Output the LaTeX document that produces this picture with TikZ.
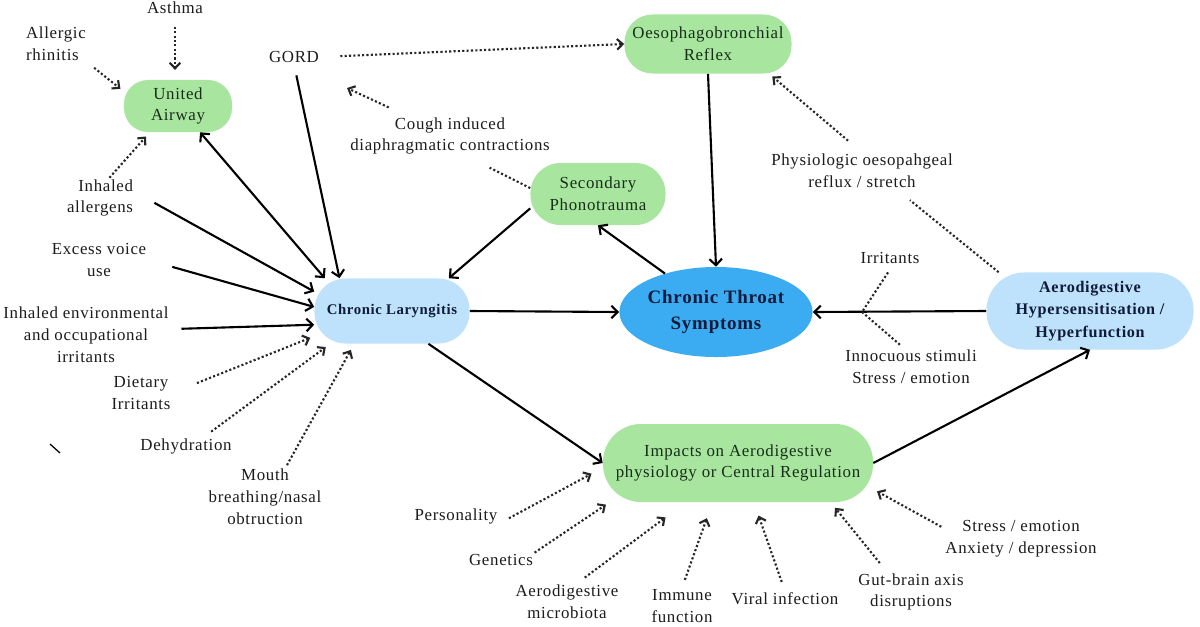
\documentclass[tikz,border=0pt]{standalone}
\usepackage{fontspec}
\setmainfont{Liberation Serif}[LetterSpace=4]
\usetikzlibrary{arrows.meta,shapes.geometric}
\definecolor{softgreen}{RGB}{168,230,160}
\definecolor{softblue}{RGB}{190,226,251}
\definecolor{throatblue}{RGB}{60,172,242}
\definecolor{navyink}{RGB}{16,26,58}
\definecolor{greenink}{RGB}{24,46,24}
\definecolor{labelink}{RGB}{28,28,28}

\begin{document}
\begin{tikzpicture}[
    x=0.025cm, y=-0.025cm,
    every node/.style={font=\fontsize{12}{15.5}\selectfont, text=labelink},
    lbl/.style={align=center, inner sep=1pt},
    pill/.style={fill=softgreen, rounded corners=0.6cm, align=center, inner sep=0pt, text=greenink},
    bluepill/.style={fill=softblue, rounded corners=0.7cm, align=center, inner sep=0pt, text=navyink, font=\bfseries\fontsize{10.5}{13}\selectfont},
    cause/.style={->, >={Straight Barb[length=4.5pt,width=9pt]}, line width=1.5pt, draw=black},
    hint/.style={->, >={Straight Barb[length=4pt,width=7.5pt]}, line width=1.5pt, dash pattern=on 1.5pt off 1.6pt, draw=black!85},
    hintline/.style={line width=1.5pt, dash pattern=on 1.5pt off 1.6pt, draw=black!85}
  ]
    \fill[white] (0,0) rectangle (1200,626);
    \useasboundingbox (0,0) rectangle (1200,626);

    \node[pill, minimum width=2.7cm, minimum height=1.3cm] (ua) at (178,106) {United\\Airway};
    \node[pill, minimum width=4.175cm, minimum height=1.475cm, rounded corners=0.7cm] (obr) at (708,44) {Oesophagobronchial\\Reflex};
    \node[pill, minimum width=3.375cm, minimum height=1.55cm, rounded corners=0.75cm] (spt) at (598,194) {Secondary\\Phonotrauma};
    \node[pill, minimum width=6.75cm, minimum height=1.95cm, rounded corners=0.95cm] (imp) at (738,463) {Impacts on Aerodigestive\\physiology or Central Regulation};
    \node[bluepill, minimum width=3.875cm, minimum height=1.625cm, rounded corners=0.78cm] (cl) at (392,311) {Chronic Laryngitis};
    \node[bluepill, minimum width=5.175cm, minimum height=1.925cm, rounded corners=0.94cm, font=\bfseries\fontsize{11.5}{16}\selectfont] (ahh) at (1090,311) {Aerodigestive\\Hypersensitisation /\\Hyperfunction};
    \node[ellipse, fill=throatblue, minimum width=4.7cm, minimum height=2.25cm, inner sep=0pt, align=center, text=navyink, font=\bfseries\fontsize{13.5}{19}\selectfont] (cts) at (716,312) {Chronic Throat\\Symptoms};

    \node[lbl] (asthma) at (175,8) {Asthma};
    \node[lbl, align=left] (rhin) at (56,44) {Allergic\\rhinitis};
    \node[lbl, align=right] (inhall) at (100,198) {Inhaled\\allergens};
    \node[lbl] (gord) at (294,57) {GORD};
    \node[lbl] (cough) at (450,136) {Cough induced\\diaphragmatic contractions};
    \node[lbl] (voice) at (99,260) {Excess voice\\use};
    \node[lbl] (envirr) at (86,335) {Inhaled environmental\\and occupational\\irritants};
    \node[lbl] (diet) at (141,393) {Dietary\\Irritants};
    \node[lbl] (dehyd) at (186,446) {Dehydration};
    \node[lbl] (mouth) at (265,497) {Mouth\\breathing/nasal\\obtruction};
    \node[lbl] (physio) at (862,171) {Physiologic oesopahgeal\\reflux / stretch};
    \node[lbl] (irr) at (890,258) {Irritants};
    \node[lbl] (innoc) at (911,367) {Innocuous stimuli\\Stress / emotion};
    \node[lbl] (pers) at (456,516) {Personality};
    \node[lbl] (genet) at (501,560) {Genetics};
    \node[lbl] (micro) at (567,602) {Aerodigestive\\microbiota};
    \node[lbl] (immune) at (682,606) {Immune\\function};
    \node[lbl] (viral) at (785,599) {Viral infection};
    \node[lbl] (gut) at (911,592) {Gut-brain axis\\disruptions};
    \node[lbl] (stress) at (1021,539) {Stress / emotion\\Anxiety / depression};
    \coordinate (junc) at (862,312);
    \coordinate (coughtip) at (347,88);

    \draw[cause] (cl.east) -- (cts.west);
    \draw[cause] (ahh.west) -- (cts.east);
    \draw[cause] (obr.south) -- (cts.north);
    \draw[cause] (cts.143) -- (spt.south);
    \draw[cause] (spt.192) -- (cl.30);
    \draw[cause] (cl.-42) -- (imp.west);
    \draw[cause] (imp.east) -- (ahh.south);
    \draw[cause, <->] (ua.-50) -- (cl.154);
    \draw[cause, shorten <=8pt] (gord.south) -- (cl.148);
    \draw[cause, shorten <=16pt] (inhall.10) -- (cl.166);
    \draw[cause, shorten <=18pt] (voice.east) -- (cl.177);
    \draw[cause, shorten <=8pt] (envirr.4) -- (cl.190);

    \draw[hint, shorten <=8pt, shorten >=7pt] (asthma.south) -- (asthma.south |- ua.north);
    \draw[hint, shorten <=6pt, shorten >=3pt] (rhin.south east) -- (ua.165);
    \draw[hint, shorten >=4pt] (inhall.65) -- (ua.223);
    \draw[hint, shorten <=14pt] (cough) -- (coughtip);
    \draw[hintline, shorten >=18pt] (spt.175) -- (cough.-50);
    \draw[hint, shorten <=14pt] (gord.east) -- (obr.west);
    \draw[hint, shorten <=13pt, shorten >=3pt] (physio.north) -- (obr.-26);
    \draw[hintline, shorten >=12pt] (ahh.157) -- (physio.-28);
    \draw[hintline, shorten <=6pt] (irr.-70) -- (junc);
    \draw[hintline, shorten >=3pt] (junc) -- (innoc.110);
    \draw[hint, shorten <=19pt, shorten >=3pt] (diet.east) -- (cl.198);
    \draw[hint, shorten <=6pt, shorten >=4pt] (dehyd.27) -- (cl.208);
    \draw[hint, shorten <=2pt, shorten >=5pt] (mouth.55) -- (cl.221);

    \draw[hint, shorten <=8pt, shorten >=9pt] (pers.-10) -- (imp.182);
    \draw[hint, shorten >=3pt] (genet.north east) -- (imp.197);
    \draw[hint, shorten <=7pt, shorten >=18pt] (micro.62) -- (imp.217);
    \draw[hint, shorten <=6pt, shorten >=12pt] (immune.north) -- (imp.237);
    \draw[hint, shorten <=7pt, shorten >=10pt] (viral.north) -- (imp.-68);
    \draw[hint, shorten <=8pt, shorten >=5pt] (gut.140) -- (imp.-23);
    \draw[hint, shorten <=2pt, shorten >=3pt] (stress.172) -- (imp.-11);

    \draw[line width=0.9pt] (50,444) -- (60,453);
  \end{tikzpicture}
\end{document}
